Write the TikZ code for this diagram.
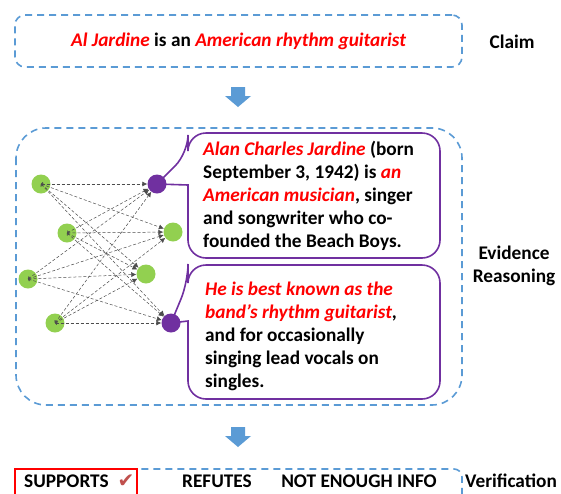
\documentclass[tikz,border=0pt]{standalone}
\usepackage{fontspec}
\setmainfont{Carlito}
\newfontfamily\symfont{DejaVu Sans}
\usetikzlibrary{arrows.meta}
\definecolor{dashblue}{HTML}{5B9BD5}
\definecolor{arrowblue}{HTML}{5B9BD5}
\definecolor{nodegreen}{HTML}{92D050}
\definecolor{nodepurple}{HTML}{7030A0}
\definecolor{checkred}{HTML}{C0504D}

\tikzset{
    dashbox/.style={draw=dashblue, line width=1.6pt, dash pattern=on 7pt off 5pt},
    gnode/.style={circle, fill=nodegreen, minimum size=19pt, inner sep=0pt},
    pnode/.style={circle, fill=nodepurple, minimum size=19pt, inner sep=0pt},
    callout/.style={draw=nodepurple, line width=1.6pt},
    edge/.style={draw=black!70, line width=0.5pt, dash pattern=on 3pt off 2pt,
        {To[length=2pt,width=4pt]}-{Latex[length=5pt,width=5pt]}},
    txt/.style={font=\fontsize{19.3}{23}\selectfont\bfseries, inner sep=0pt}
}

\begin{document}
\begin{tikzpicture}[x=1pt, y=-1pt]
    \useasboundingbox (0,0) rectangle (561,493);
    \clip (0,0) rectangle (561,493);

    \node[dashbox, rounded corners=10pt, minimum width=447pt, minimum height=52pt, txt] (claim) at (238.5,41)
        {\textcolor{red}{\itshape Al Jardine} is an \textcolor{red}{\itshape American rhythm guitarist}};
    \node[txt] (claimlbl) at (512,42) {Claim};

    \foreach \y in {87,427}
        \fill[arrowblue] (231,\y) -- (245,\y) -- (245,\y+9) -- (251,\y+9) -- (238,\y+20)
            -- (225,\y+9) -- (231,\y+9) -- cycle;

    \draw[dashbox, rounded corners=30pt] (16,128) rectangle (462,405);
    \node[txt, align=center] (evlbl) at (514,266) {Evidence\\Reasoning};

    \coordinate (p1) at (157,184);
    \coordinate (p2) at (171,323);
    \draw[callout, rounded corners=18pt] (188,185) -- (188,258) -- (440,258) -- (440,133) -- (188,133)
        -- (188,153) [sharp corners] -- (p1) -- cycle;
    \draw[callout, rounded corners=18pt] (188,321) -- (188,399) -- (440,399) -- (440,265) -- (188,265)
        -- (188,282) [sharp corners] -- (p2) -- cycle;

    \node[txt, align=left, anchor=north west] (ev1) at (203,141)
        {\textcolor{red}{\itshape Alan Charles Jardine} (born\\
         September 3, 1942) is \textcolor{red}{\itshape an}\\
         \textcolor{red}{\itshape American musician}, singer\\
         and songwriter who co-\\
         founded the Beach Boys.};
    \node[txt, align=left, anchor=north west] (ev2) at (205,282)
        {\textcolor{red}{\itshape He is best known as the}\\
         \textcolor{red}{\itshape band's rhythm guitarist},\\
         and for occasionally\\
         singing lead vocals on\\
         singles.};

    \node[gnode] (l1) at (41,184) {};
    \node[gnode] (l2) at (67,233) {};
    \node[gnode] (l3) at (28,279) {};
    \node[gnode] (l4) at (55,323) {};
    \node[pnode] (r1) at (p1) {};
    \node[gnode] (r2) at (173,232) {};
    \node[gnode] (r3) at (146,274) {};
    \node[pnode] (r4) at (p2) {};
    \foreach \i in {1,...,4}
        \foreach \j in {1,...,4}
            \draw[edge] (l\i.center) -- (r\j);

    \draw[dashbox, rounded corners=8pt] (15,469) rectangle (462,530);
    \draw[red, line width=1.6pt, fill=white] (15,469) rectangle (137,530);
    \node[txt, anchor=west] (sup) at (24,481) {SUPPORTS};
    \node[text=checkred, font=\symfont\fontsize{20}{22}\selectfont, inner sep=0pt] (chk) at (126,481) {✔};
    \node[txt] (ref) at (217,481) {REFUTES};
    \node[txt] (nei) at (359,481) {NOT ENOUGH INFO};
    \node[txt] (verlbl) at (511,481) {Verification};
\end{tikzpicture}
\end{document}
